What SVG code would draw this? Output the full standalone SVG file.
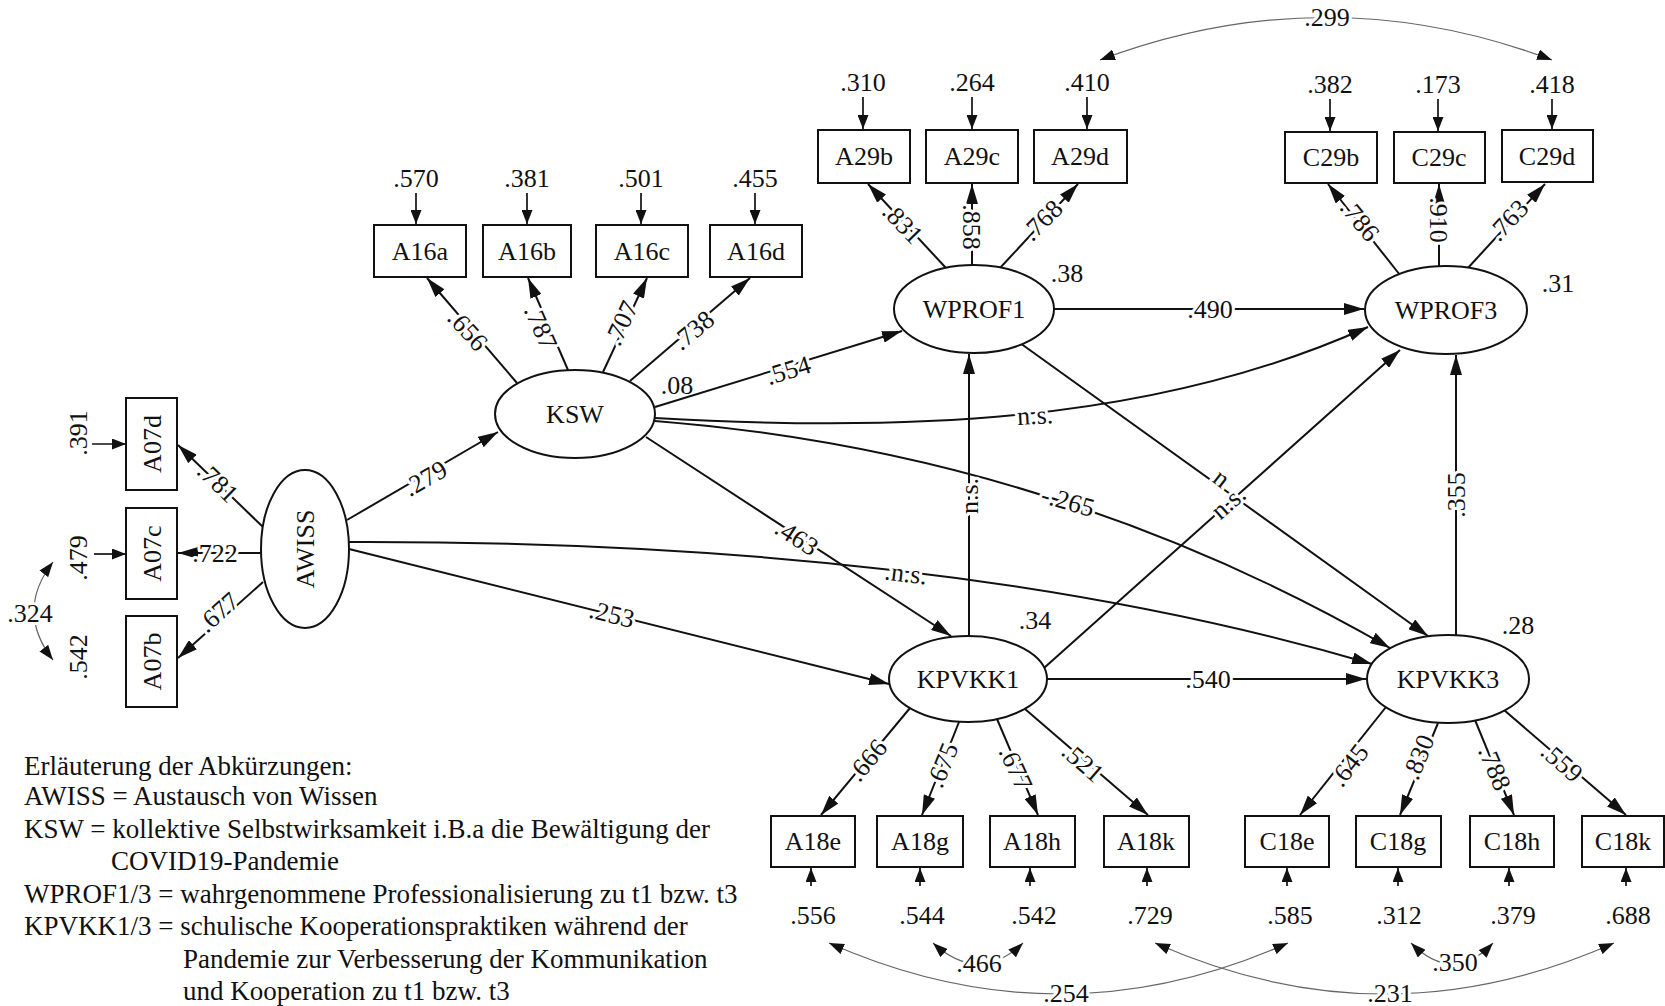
<svg xmlns="http://www.w3.org/2000/svg" width="1665" height="1006" viewBox="0 0 1665 1006">
<defs>
<marker id="ah" markerUnits="userSpaceOnUse" markerWidth="20" markerHeight="12" viewBox="0 0 20 12" refX="20" refY="6" orient="auto"><path d="M0,0L20,6L0,12Z" fill="#111"/></marker>
<marker id="as" markerUnits="userSpaceOnUse" markerWidth="14" markerHeight="11" viewBox="0 0 14 11" refX="14" refY="5.5" orient="auto"><path d="M0,0L14,5.5L0,11Z" fill="#111"/></marker>
<marker id="ac" markerUnits="userSpaceOnUse" markerWidth="15" markerHeight="11" viewBox="0 0 15 11" refX="15" refY="5.5" orient="auto-start-reverse"><path d="M0,0L15,5.5L0,11Z" fill="#111"/></marker>
</defs>
<style>
.ln{stroke:#111;stroke-width:2;fill:none;marker-end:url(#ah)}
.es{stroke:#111;stroke-width:1.7;fill:none;marker-end:url(#as)}
.cv{stroke:#666;stroke-width:1.2;fill:none;marker-start:url(#ac);marker-end:url(#ac)}
.bx{fill:#fff;stroke:#111;stroke-width:2}
text{font-family:"Liberation Serif","Times New Roman",serif;fill:#111}
.nd{font-size:26px;text-anchor:middle}
.n{font-size:26px;text-anchor:middle}
.h{stroke:#fff;stroke-width:6;stroke-linejoin:round;paint-order:stroke}
.lg{font-size:27px}
</style>
<rect x="0" y="0" width="1665" height="1006" fill="#fff"/>

<g id="connectors">
<path class="ln" d="M263,527 L178,445"/>
<path class="ln" d="M261,553 L178,553"/>
<path class="ln" d="M263,582 L178,658"/>
<path class="ln" d="M517,383 L427,278"/>
<path class="ln" d="M568,370 L528,278"/>
<path class="ln" d="M603,372 L647,278"/>
<path class="ln" d="M630,381 L750,278"/>
<path class="ln" d="M946,268 L868,184"/>
<path class="ln" d="M972,265 L972,184"/>
<path class="ln" d="M1000,268 L1078,184"/>
<path class="ln" d="M1400,275 L1328,184"/>
<path class="ln" d="M1439,266 L1439,184"/>
<path class="ln" d="M1467,269 L1545,184"/>
<path class="ln" d="M910,708 L821,815"/>
<path class="ln" d="M959,722 L922,815"/>
<path class="ln" d="M997,719 L1038,815"/>
<path class="ln" d="M1025,709 L1148,815"/>
<path class="ln" d="M1386,707 L1300,815"/>
<path class="ln" d="M1438,723 L1400,815"/>
<path class="ln" d="M1475,720 L1514,815"/>
<path class="ln" d="M1504,710 L1626,815"/>
<path class="es" d="M92,444 L126,444"/>
<path class="es" d="M94,554 L126,554"/>
<path class="es" d="M416,193 L416,224"/>
<path class="es" d="M527,193 L527,224"/>
<path class="es" d="M641,193 L641,224"/>
<path class="es" d="M755,193 L755,224"/>
<path class="es" d="M863,97 L863,129"/>
<path class="es" d="M972,97 L972,129"/>
<path class="es" d="M1087,97 L1087,129"/>
<path class="es" d="M1330,99 L1330,131"/>
<path class="es" d="M1438,99 L1438,131"/>
<path class="es" d="M1552,99 L1552,129"/>
<path class="es" d="M811,886 L811,868"/>
<path class="es" d="M920,886 L920,868"/>
<path class="es" d="M1030,886 L1030,868"/>
<path class="es" d="M1147,886 L1147,868"/>
<path class="es" d="M1287,886 L1287,868"/>
<path class="es" d="M1398,886 L1398,868"/>
<path class="es" d="M1509,886 L1509,868"/>
<path class="es" d="M1626,886 L1626,868"/>
<path class="ln" d="M347,520 L498,432"/>
<path class="ln" d="M349,549 L889,684"/>
<path class="ln" d="M348,542 Q950,540 1372,664"/>
<path class="ln" d="M655,407 L902,331"/>
<path class="ln" d="M655,418 C900,432 1150,425 1368,327"/>
<path class="ln" d="M655,421 Q1050,452 1390,648"/>
<path class="ln" d="M646,437 L951,636"/>
<path class="ln" d="M969,636 L969,354"/>
<path class="ln" d="M1054,309 L1364,309"/>
<path class="ln" d="M1020,343 L1428,636"/>
<path class="ln" d="M1044,668 L1400,350"/>
<path class="ln" d="M1047,679 L1366,679"/>
<path class="ln" d="M1456,635 L1456,355"/>
<path class="cv" d="M53,562 Q15,611 53,660"/>
<path class="cv" d="M1100,60 Q1327,-25 1552,60"/>
<path class="cv" d="M933,943 Q979,985 1023,943"/>
<path class="cv" d="M829,943 Q1060,1045 1288,943"/>
<path class="cv" d="M1411,943 Q1453,985 1493,943"/>
<path class="cv" d="M1155,943 Q1385,1045 1614,943"/>
</g>

<g id="connector-labels">
<text class="n h" transform="translate(218,482) rotate(44)" y="9">.781</text>
<text class="n h" transform="translate(215,553)" y="9">.722</text>
<text class="n h" transform="translate(218,612) rotate(-42)" y="9">.677</text>
<text class="n h" transform="translate(468,330) rotate(48)" y="9">.656</text>
<text class="n h" transform="translate(541,327) rotate(66)" y="9">.787</text>
<text class="n h" transform="translate(621,323) rotate(-65)" y="9">.707</text>
<text class="n h" transform="translate(693,330) rotate(-40)" y="9">.738</text>
<text class="n h" transform="translate(903,223) rotate(46)" y="9">.831</text>
<text class="n h" transform="translate(972,227) rotate(90)" y="9">.858</text>
<text class="n h" transform="translate(1042,220) rotate(-45)" y="9">.768</text>
<text class="n h" transform="translate(1360,220) rotate(51)" y="9">.786</text>
<text class="n h" transform="translate(1439,220) rotate(90)" y="9">.910</text>
<text class="n h" transform="translate(1508,220) rotate(-47)" y="9">.763</text>
<text class="n h" transform="translate(867,760) rotate(-50)" y="9">.666</text>
<text class="n h" transform="translate(942,765) rotate(-68)" y="9">.675</text>
<text class="n h" transform="translate(1016,768) rotate(65)" y="9">.677</text>
<text class="n h" transform="translate(1083,762) rotate(41)" y="9">.521</text>
<text class="n h" transform="translate(1349,765) rotate(-52)" y="9">.645</text>
<text class="n h" transform="translate(1418,757) rotate(-68)" y="9">.830</text>
<text class="n h" transform="translate(1495,768) rotate(67)" y="9">.788</text>
<text class="n h" transform="translate(1562,762) rotate(41)" y="9">.559</text>
<text class="n h" transform="translate(425,478) rotate(-30)" y="9">.279</text>
<text class="n h" transform="translate(612,614) rotate(14)" y="9">.253</text>
<text class="n h" transform="translate(906,573) rotate(7)" y="9">.n.s.</text>
<text class="n h" transform="translate(788,370) rotate(-17)" y="9">.554</text>
<text class="n h" transform="translate(1035,415) rotate(-3)" y="9">n.s.</text>
<text class="n h" transform="translate(1068,501) rotate(16)" y="9">-.265</text>
<text class="n h" transform="translate(797,537) rotate(33)" y="9">.463</text>
<text class="n h" transform="translate(969,496) rotate(-90)" y="9">n.s.</text>
<text class="n h" transform="translate(1210,309)" y="9">.490</text>
<text class="n h" transform="translate(1222,478) rotate(38)" y="9">n</text>
<text class="n h" transform="translate(1228,502) rotate(-41)" y="9">n.s.</text>
<text class="n h" transform="translate(1208,679)" y="9">.540</text>
<text class="n h" transform="translate(1456,495) rotate(-90)" y="9">.355</text>
<text class="n h" transform="translate(30,613)" y="9">.324</text>
<text class="n h" transform="translate(1327,17)" y="9">.299</text>
<text class="n h" transform="translate(979,963)" y="9">.466</text>
<text class="n h" transform="translate(1066,993)" y="9">.254</text>
<text class="n h" transform="translate(1455,962)" y="9">.350</text>
<text class="n h" transform="translate(1390,993)" y="9">.231</text>
</g>

<g id="r2-labels">
<text class="n" x="677" y="394">.08</text>
<text class="n" x="1067" y="282">.38</text>
<text class="n" x="1558" y="292">.31</text>
<text class="n" x="1035" y="629">.34</text>
<text class="n" x="1518" y="634">.28</text>
</g>

<g id="errors">
<text class="n" transform="translate(78,433) rotate(-90)" y="9">.391</text>
<text class="n" transform="translate(78,558) rotate(-90)" y="9">.479</text>
<text class="n" transform="translate(78,657) rotate(-90)" y="9">.542</text>
<text class="n" x="416" y="187">.570</text>
<text class="n" x="527" y="187">.381</text>
<text class="n" x="641" y="187">.501</text>
<text class="n" x="755" y="187">.455</text>
<text class="n" x="863" y="91">.310</text>
<text class="n" x="972" y="91">.264</text>
<text class="n" x="1087" y="91">.410</text>
<text class="n" x="1330" y="93">.382</text>
<text class="n" x="1438" y="93">.173</text>
<text class="n" x="1552" y="93">.418</text>
<text class="n" x="813" y="924">.556</text>
<text class="n" x="922" y="924">.544</text>
<text class="n" x="1034" y="924">.542</text>
<text class="n" x="1150" y="924">.729</text>
<text class="n" x="1290" y="924">.585</text>
<text class="n" x="1399" y="924">.312</text>
<text class="n" x="1513" y="924">.379</text>
<text class="n" x="1628" y="924">.688</text>
</g>

<g id="AWISS"><ellipse class="bx" cx="305" cy="549" rx="44" ry="79"/><text class="nd" transform="translate(305,549) rotate(-90)" y="9">AWISS</text></g>
<g id="KSW"><ellipse class="bx" cx="575" cy="414" rx="80" ry="44"/><text class="nd" x="575" y="423">KSW</text></g>
<g id="WPROF1"><ellipse class="bx" cx="974" cy="309" rx="80" ry="44"/><text class="nd" x="974" y="318">WPROF1</text></g>
<g id="WPROF3"><ellipse class="bx" cx="1446" cy="310" rx="81" ry="44"/><text class="nd" x="1446" y="319">WPROF3</text></g>
<g id="KPVKK1"><ellipse class="bx" cx="968" cy="679" rx="79" ry="43"/><text class="nd" x="968" y="688">KPVKK1</text></g>
<g id="KPVKK3"><ellipse class="bx" cx="1448" cy="679" rx="81" ry="44"/><text class="nd" x="1448" y="688">KPVKK3</text></g>

<g id="A07d"><rect class="bx" x="126" y="398" width="51" height="92"/><text class="nd" transform="translate(151.5,444) rotate(-90)" y="9">A07d</text></g>
<g id="A07c"><rect class="bx" x="126" y="508" width="51" height="91"/><text class="nd" transform="translate(151.5,553.5) rotate(-90)" y="9">A07c</text></g>
<g id="A07b"><rect class="bx" x="126" y="616" width="51" height="91"/><text class="nd" transform="translate(151.5,661.5) rotate(-90)" y="9">A07b</text></g>

<g id="A16a"><rect class="bx" x="374" y="225" width="92" height="52"/><text class="nd" x="420" y="260">A16a</text></g>
<g id="A16b"><rect class="bx" x="483" y="225" width="88" height="52"/><text class="nd" x="527" y="260">A16b</text></g>
<g id="A16c"><rect class="bx" x="596" y="225" width="92" height="52"/><text class="nd" x="642" y="260">A16c</text></g>
<g id="A16d"><rect class="bx" x="710" y="225" width="92" height="52"/><text class="nd" x="756" y="260">A16d</text></g>

<g id="A29b"><rect class="bx" x="818" y="130" width="92" height="53"/><text class="nd" x="864" y="165">A29b</text></g>
<g id="A29c"><rect class="bx" x="926" y="130" width="92" height="53"/><text class="nd" x="972" y="165">A29c</text></g>
<g id="A29d"><rect class="bx" x="1034" y="130" width="93" height="53"/><text class="nd" x="1080" y="165">A29d</text></g>

<g id="C29b"><rect class="bx" x="1285" y="132" width="92" height="51"/><text class="nd" x="1331" y="166">C29b</text></g>
<g id="C29c"><rect class="bx" x="1394" y="132" width="91" height="51"/><text class="nd" x="1439" y="166">C29c</text></g>
<g id="C29d"><rect class="bx" x="1502" y="130" width="91" height="52"/><text class="nd" x="1547" y="165">C29d</text></g>

<g id="A18e"><rect class="bx" x="771" y="816" width="84" height="51"/><text class="nd" x="813" y="850">A18e</text></g>
<g id="A18g"><rect class="bx" x="877" y="816" width="86" height="51"/><text class="nd" x="920" y="850">A18g</text></g>
<g id="A18h"><rect class="bx" x="990" y="816" width="85" height="51"/><text class="nd" x="1032" y="850">A18h</text></g>
<g id="A18k"><rect class="bx" x="1104" y="816" width="85" height="51"/><text class="nd" x="1146" y="850">A18k</text></g>
<g id="C18e"><rect class="bx" x="1245" y="816" width="84" height="51"/><text class="nd" x="1287" y="850">C18e</text></g>
<g id="C18g"><rect class="bx" x="1356" y="816" width="85" height="51"/><text class="nd" x="1398" y="850">C18g</text></g>
<g id="C18h"><rect class="bx" x="1470" y="816" width="84" height="51"/><text class="nd" x="1512" y="850">C18h</text></g>
<g id="C18k"><rect class="bx" x="1582" y="816" width="82" height="51"/><text class="nd" x="1623" y="850">C18k</text></g>

<g id="legend">
<text class="lg" x="24" y="775">Erläuterung der Abkürzungen:</text>
<text class="lg" x="24" y="805">AWISS = Austausch von Wissen</text>
<text class="lg" x="24" y="838">KSW = kollektive Selbstwirksamkeit i.B.a die Bewältigung der</text>
<text class="lg" x="111" y="870">COVID19-Pandemie</text>
<text class="lg" x="24" y="903">WPROF1/3 = wahrgenommene Professionalisierung zu t1 bzw. t3</text>
<text class="lg" x="24" y="935">KPVKK1/3 = schulische Kooperationspraktiken während der</text>
<text class="lg" x="183" y="968">Pandemie zur Verbesserung der Kommunikation</text>
<text class="lg" x="183" y="1000">und Kooperation zu t1 bzw. t3</text>
</g>
</svg>
